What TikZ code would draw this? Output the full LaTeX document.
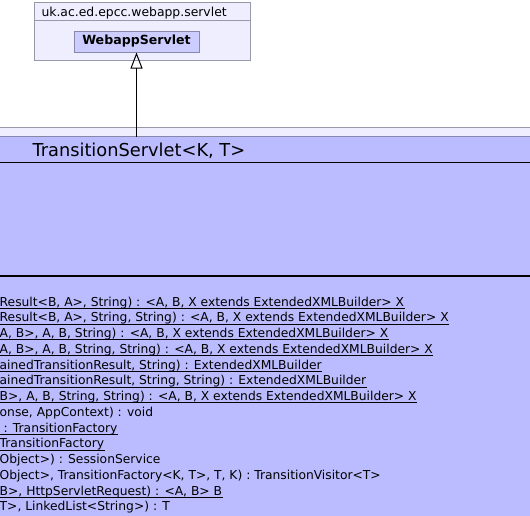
\documentclass[tikz,border=0pt]{standalone}
\usepackage{fontspec}
\setmainfont{DejaVu Sans}
\usepackage{tikz}
\usetikzlibrary{arrows.meta,positioning}
\definecolor{pkgfill}{HTML}{EEEEFF}
\definecolor{pkgline}{HTML}{9898A8}
\definecolor{clsfill}{HTML}{CCCCFF}
\definecolor{clsline}{HTML}{8888AA}
\definecolor{mainfill}{HTML}{BBBBFF}

\begin{document}
\begin{tikzpicture}[x=1pt, y=-1pt, line width=1pt,
    optext/.style={anchor=base west, inner sep=0pt, font=\fontsize{12.3}{14}\selectfont},
    uline/.style={line width=1pt}]
      \useasboundingbox (0,0) rectangle (530,515);
      \clip (0,0) rectangle (530,515);
      % Package uk.ac.ed.epcc.webapp.servlet
      \draw[pkgline, fill=pkgfill] (34.5,2.5) rectangle (250.5,60.5);
      \draw[pkgline] (34.5,20.5) -- (250.5,20.5);
      \node[anchor=base west, inner sep=0pt, font=\fontsize{12.4}{14}\selectfont] (pkgname) at (41,16.5) {uk.ac.ed.epcc.webapp.servlet};
      \node[draw=clsline, fill=clsfill, minimum width=125pt, minimum height=21pt, inner sep=0pt,
            font=\bfseries\fontsize{12.6}{14}\selectfont] (webapp) at (136.5,41.5) {WebappServlet};
      % Package and class TransitionServlet
      \draw[pkgline, fill=pkgfill] (-5,127.5) rectangle (540,530);
      \draw[clsline, fill=mainfill] (-5,136.5) rectangle (540,530);
      \node[anchor=base west, inner sep=0pt, font=\fontsize{17.8}{19}\selectfont] (servlet) at (32,156) {TransitionServlet<K, T>};
      \draw (-5,162.5) -- (540,162.5);
      \draw[line width=2pt] (-5,275.5) -- (540,275.5);
      % Generalisation
      \coordinate (servlettop) at (136.5,136.5);
      \draw[-{Triangle[open, length=16pt, width=12pt]}] (servlettop) -- (webapp.south);
      % Operations (ul = underlined, static)
      \foreach \optxt/\ul [count=\i] in {
          {Result<B, A>, String) : <A, B, X extends ExtendedXMLBuilder> X}/1,
          {Result<B, A>, String, String) : <A, B, X extends ExtendedXMLBuilder> X}/1,
          {A, B>, A, B, String) : <A, B, X extends ExtendedXMLBuilder> X}/1,
          {A, B>, A, B, String, String) : <A, B, X extends ExtendedXMLBuilder> X}/1,
          {ainedTransitionResult, String) : ExtendedXMLBuilder}/1,
          {ainedTransitionResult, String, String) : ExtendedXMLBuilder}/1,
          {B>, A, B, String, String) : <A, B, X extends ExtendedXMLBuilder> X}/1,
          {onse, AppContext) : void}/0,
          {\ : TransitionFactory}/1,
          {TransitionFactory}/1,
          {Object>) : SessionService}/0,
          {Object>, TransitionFactory<K, T>, T, K) : TransitionVisitor<T>}/0,
          {B>, HttpServletRequest) : <A, B> B}/1,
          {T>, LinkedList<String>) : T}/0} {
        \node[optext] (op\i) at (-0.8, {306+15.75*(\i-1)}) {\optxt};
        \ifnum\ul=1
          \draw[uline] (op\i.base east) ++(0,2.3) -- ++(-600,0);
        \fi
      }
    \end{tikzpicture}
\end{document}
